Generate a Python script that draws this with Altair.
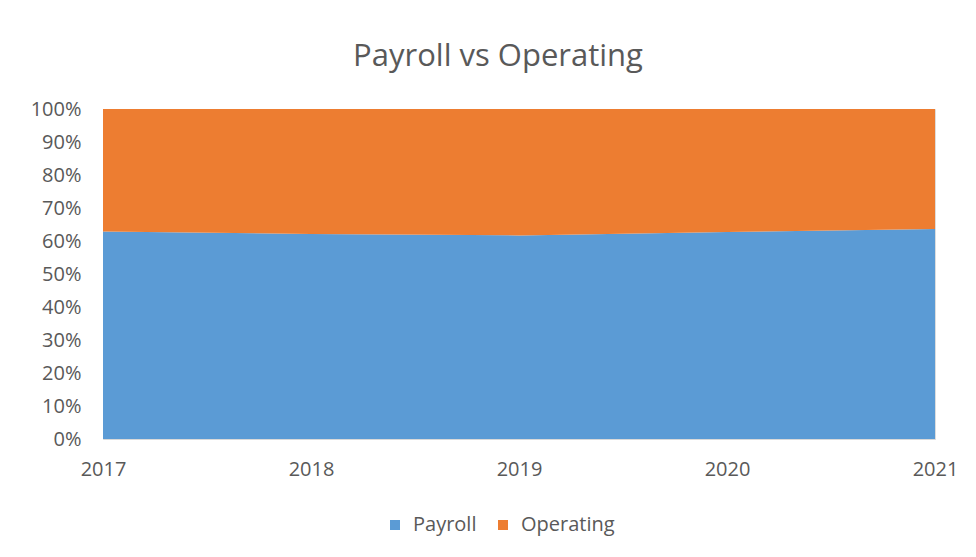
import altair as alt
import pandas as pd

years = [2017, 2018, 2019, 2020, 2021]
payroll = [62.9, 62.1, 61.7, 62.7, 63.6]
operating = [37.1, 37.9, 38.3, 37.3, 36.4]
series = ["Payroll", "Operating"]
colors = ["#5B9BD5", "#ED7D31"]

rows = []
for i, y in enumerate(years):
    rows.append({"Year": y, "Series": "Payroll", "Value": payroll[i], "ord": 0})
    rows.append({"Year": y, "Series": "Operating", "Value": operating[i], "ord": 1})
df = pd.DataFrame(rows)

text_color = "#595959"
font = "Open Sans"

chart = (
    alt.Chart(df)
    .mark_area(opacity=1)
    .encode(
        x=alt.X(
            "Year:Q",
            scale=alt.Scale(domain=[2017, 2021], nice=False, zero=False),
            axis=alt.Axis(
                title=None,
                values=years,
                format="d",
                labelFlush=False,
                ticks=False,
                grid=False,
                domainColor="#D9D9D9",
                labelPadding=20,
                labelFontSize=20,
                labelColor=text_color,
                labelFont=font,
            ),
        ),
        y=alt.Y(
            "Value:Q",
            stack="normalize",
            axis=alt.Axis(
                title=None,
                format=".0%",
                values=[i / 10 for i in range(11)],
                ticks=False,
                domain=False,
                grid=False,
                labelPadding=22,
                labelFontSize=20,
                labelColor=text_color,
                labelFont=font,
            ),
        ),
        color=alt.Color(
            "Series:N",
            scale=alt.Scale(domain=series, range=colors),
            sort=series,
            legend=alt.Legend(
                title=None,
                orient="none",
                direction="horizontal",
                legendX=282,
                legendY=406,
                symbolType="square",
                symbolSize=100,
                symbolStrokeWidth=0,
                labelFontSize=20,
                labelColor=text_color,
                labelFont=font,
                columnPadding=16,
                labelOffset=8,
            ),
        ),
        order=alt.Order("ord:Q"),
    )
    .properties(
        width=832,
        height=330,
        title=alt.TitleParams(
            "Payroll vs Operating",
            fontSize=31,
            font=font,
            fontWeight="normal",
            color=text_color,
            dx=-21,
            offset=26,
        ),
        autosize=alt.AutoSizeParams(type="none"),
        padding={"left": 95, "top": 101, "right": 33, "bottom": 110},
    )
    .configure_view(stroke=None)
    .configure(background="white")
)

chart.save("out.html", embed_options={"renderer": "svg", "actions": False})
